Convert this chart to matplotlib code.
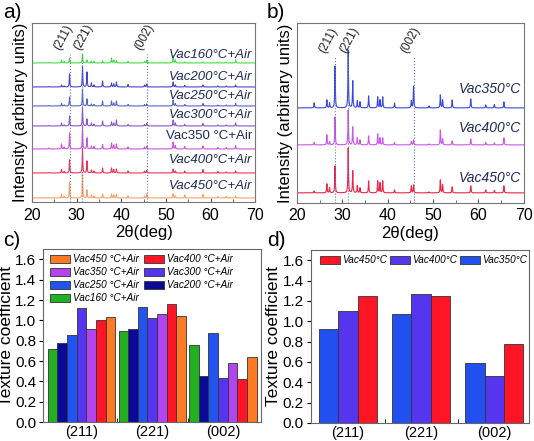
import numpy as np
import matplotlib
matplotlib.use("Agg")
import matplotlib.pyplot as plt
from matplotlib.ticker import MultipleLocator, FixedLocator

plt.rcParams['font.family'] = ['Liberation Sans', 'DejaVu Sans']

# ---- XRD peak list (2theta, deg) shared by all patterns ----
peak_pos = [23.8, 26.6, 27.2, 28.4, 31.3, 32.3, 33.3, 33.9, 35.8, 37.8, 38.3, 38.9,
            41.5, 45.2, 45.7, 49.1, 51.6, 52.1, 54.2, 58.3, 61.6, 63.5, 65.6]

# panel a: peak heights (arb. units) for each sample
a_vac160 = [0.5, 3, 1.5, 5, 9, 3, 2, 1.5, 2, 5, 3, 2.5, 1.5, 1.5, 2.5, 0.3, 7, 3, 1, 1, 0.8, 0.8, 3]
a_vac200 = [0.5, 2, 1, 13, 21, 15, 4, 2, 6, 4, 3, 5, 2.5, 2, 3, 0.3, 5, 2, 1.5, 2, 1, 1, 2]
a_vac250 = [0.5, 2.5, 1, 9, 17, 7, 2, 1.5, 5, 5, 3, 5, 1.5, 1.5, 2, 0.3, 6, 2.5, 1.5, 2.5, 1, 1, 2.5]
a_vac300 = [0.5, 3, 1, 10, 19, 7, 3, 2, 5, 4, 3, 6, 1.5, 1.5, 2.5, 0.3, 6, 3, 1.5, 2.5, 1, 1, 3]
a_vac350 = [1, 5, 2, 16, 23, 11, 3, 2.5, 4.5, 6, 4, 5, 2, 2, 3, 0.3, 7, 3.5, 2.5, 3, 1.5, 1.5, 3.5]
a_vac400 = [0.5, 3.5, 1.5, 13, 25, 12, 3, 2, 5, 5, 3.5, 4, 2, 2, 2.5, 0.3, 4, 2, 2, 3.5, 1.5, 1, 2]
a_vac450 = [0.5, 3.5, 1.5, 16, 25, 8, 3, 2, 4, 4, 3, 3.5, 2, 2, 4, 0.3, 4, 2, 3, 3.5, 1.5, 1.5, 2]
a_names = ["Vac160\u00b0C+Air", "Vac200\u00b0C+Air", "Vac250\u00b0C+Air", "Vac300\u00b0C+Air",
           "Vac350 \u00b0C+Air", "Vac400\u00b0C+Air", "Vac450\u00b0C+Air"]
a_offsets = [139, 115, 96, 76, 53, 29, 4]
a_label_y = [147, 125, 106, 87, 66, 42, 16]
a_colors = ['#44dd44', '#4646cc', '#5566cc', '#8a55cc', '#cc55dd', '#ee3358', '#ffa060']

# panel b
b_vac350 = [5, 8, 5, 42, 58, 27, 7, 6, 12, 11, 8, 11, 5, 7, 22, 2, 13, 8, 8, 9, 3, 3.5, 6]
b_vac400 = [2.5, 10, 3, 28, 35, 18, 7, 5, 9, 11, 7, 7, 2.5, 3.5, 5, 1, 15, 6, 4, 6, 2.5, 2, 7]
b_vac450 = [2, 9, 5, 27, 45, 22, 7, 5, 12, 12, 10, 12, 3, 7, 8, 1, 13, 8, 6, 7, 3, 2.5, 7]
b_names = ["Vac350\u00b0C", "Vac400\u00b0C", "Vac450\u00b0C"]
b_offsets = [95, 58, 10]
b_label_y = [114, 75, 25]
b_colors = ['#3848dd', '#cc55ee', '#ee2244']

hkl = ["(211)", "(221)", "(002)"]
hkl_pos = [28.4, 31.3, 45.7]
hkl_shift = [-1.5, 0.2, -0.6]

# ---- texture coefficients ----
c_names = ["Vac160 \u00b0C+Air", "Vac200 \u00b0C+Air", "Vac250 \u00b0C+Air", "Vac300 \u00b0C+Air",
           "Vac350 \u00b0C+Air", "Vac400 \u00b0C+Air", "Vac450 \u00b0C+Air"]
c_vac160 = [0.72, 0.90, 0.76]
c_vac200 = [0.78, 0.91, 0.45]
c_vac250 = [0.86, 1.13, 0.88]
c_vac300 = [1.12, 1.02, 0.43]
c_vac350 = [0.91, 1.06, 0.58]
c_vac400 = [1.00, 1.16, 0.42]
c_vac450 = [1.03, 1.04, 0.64]
c_colors = ['#22b022', '#0a0a96', '#2255f0', '#5535ee', '#b245f0', '#ff1525', '#ff7a25']

d_names = ["Vac350\u00b0C", "Vac400\u00b0C", "Vac450\u00b0C"]
d_vac350 = [0.92, 1.07, 0.59]
d_vac400 = [1.10, 1.27, 0.46]
d_vac450 = [1.25, 1.25, 0.78]
d_colors = ['#2250f0', '#5535ee', '#ff1525']

TICK_FS = 11.5
LAB_FS = 12


def pattern(x, heights, offset, w=0.07):
    y = np.full_like(x, offset, dtype=float)
    for p, h in zip(peak_pos, heights):
        y += h / (1 + ((x - p) / w) ** 2)
    return y


def style_xrd(ax, top):
    ax.set_xlim(20, 70)
    ax.set_ylim(0, top)
    ax.set_yticks([])
    ax.xaxis.set_major_locator(MultipleLocator(10))
    ax.xaxis.set_minor_locator(MultipleLocator(5))
    ax.tick_params(axis='x', which='both', direction='in', labelsize=TICK_FS, color='#555555')
    ax.tick_params(axis='x', which='major', length=3, pad=4)
    ax.tick_params(axis='x', which='minor', length=2)
    for s in ax.spines.values():
        s.set_color('#777777')
    ax.set_ylabel("Intensity (arbitrary units)", fontsize=LAB_FS, labelpad=3)
    ax.set_xlabel("2\u03b8(deg)", fontsize=LAB_FS, labelpad=2)


def style_bar(ax, xlim):
    ax.set_xlim(*xlim)
    ax.set_ylim(0, 1.7)
    ax.set_xticks([1, 2, 3])
    ax.set_xticklabels(hkl, fontsize=10.5)
    ax.xaxis.set_minor_locator(FixedLocator([1.5, 2.5]))
    ax.tick_params(axis='x', which='major', length=0, pad=2)
    ax.tick_params(axis='x', which='minor', length=3, direction='in')
    ax.set_yticks(np.arange(0, 1.61, 0.2))
    ax.tick_params(axis='y', labelsize=11, length=3, pad=2)
    for s in ax.spines.values():
        s.set_color('#666666')
    ax.set_ylabel("Texture coefficient", fontsize=12.5, labelpad=1)


fig = plt.figure(figsize=(5.34, 4.41), dpi=100)
ax_a = fig.add_axes([0.060, 0.542, 0.418, 0.406])
ax_b = fig.add_axes([0.556, 0.540, 0.425, 0.408])
ax_c = fig.add_axes([0.081, 0.043, 0.408, 0.392])
ax_d = fig.add_axes([0.582, 0.041, 0.408, 0.392])

x = np.linspace(20, 70, 3000)

# a)
a_data = [a_vac160, a_vac200, a_vac250, a_vac300, a_vac350, a_vac400, a_vac450]
for hs, off, col, name, ly in zip(a_data, a_offsets, a_colors, a_names, a_label_y):
    ax_a.plot(x, pattern(x, hs, off), color=col, lw=0.8)
    st = 'normal' if name.startswith("Vac350") else 'italic'
    ax_a.text(69.3, ly, name, ha='right', va='center', fontsize=9.5, style=st, color='#1f2a5a')
for p, dx, lab in zip(hkl_pos, hkl_shift, hkl):
    ax_a.plot([p, p], [0, 148], ls=':', color='#6a78b0', lw=0.8)
    ax_a.text(p + dx, 150, lab, rotation=62, ha='center', va='bottom', fontsize=8.5, color='#222222')
style_xrd(ax_a, 179)

# b)
b_data = [b_vac350, b_vac400, b_vac450]
for hs, off, col, name, ly in zip(b_data, b_offsets, b_colors, b_names, b_label_y):
    ax_b.plot(x, pattern(x, hs, off), color=col, lw=0.8)
    ax_b.text(69.3, ly, name, ha='right', va='center', fontsize=10, style='italic', color='#1f2a5a')
for p, dx, lab in zip(hkl_pos, hkl_shift, hkl):
    ax_b.plot([p, p], [0, 146], ls=':', color='#6a78b0', lw=0.8)
    ax_b.text(p + dx, 148, lab, rotation=62, ha='center', va='bottom', fontsize=8.5, color='#222222')
style_xrd(ax_b, 180)

# c)
c_data = [c_vac160, c_vac200, c_vac250, c_vac300, c_vac350, c_vac400, c_vac450]
grp = np.arange(1, 4)
bw = 0.136
bars_c = []
for i, (vals, col, name) in enumerate(zip(c_data, c_colors, c_names)):
    b = ax_c.bar(grp + (i - 3) * bw, vals, width=bw, color=col, edgecolor='#333333',
                 lw=0.6, label=name)
    bars_c.append(b)
style_bar(ax_c, (0.46, 3.54))
order = [6, 4, 2, 0, 5, 3, 1]
ax_c.legend([bars_c[i] for i in order], [c_names[i] for i in order], ncol=2,
            loc='upper left', bbox_to_anchor=(0.0, 1.01), frameon=False,
            prop={'style': 'italic', 'size': 7.2}, handlelength=2.0, handleheight=0.95,
            columnspacing=0.5, handletextpad=0.3, labelspacing=0.3, borderaxespad=0.3)

# d)
d_data = [d_vac350, d_vac400, d_vac450]
bw = 0.265
bars_d = []
for i, (vals, col, name) in enumerate(zip(d_data, d_colors, d_names)):
    b = ax_d.bar(grp + (i - 1) * bw, vals, width=bw, color=col, edgecolor='#333333',
                 lw=0.6, label=name)
    bars_d.append(b)
style_bar(ax_d, (0.49, 3.47))
ax_d.legend(bars_d[::-1], d_names[::-1], ncol=3, loc='upper left',
            bbox_to_anchor=(0.01, 1.01), frameon=False,
            prop={'style': 'italic', 'size': 7.2}, handlelength=2.0, handleheight=0.95,
            columnspacing=0.3, handletextpad=0.2, borderaxespad=0.3)

for lab, (px, py) in zip(["a)", "b)", "c)", "d)"],
                         [(3, 13), (267, 13), (3, 241), (267, 241)]):
    fig.text(px / 534, 1 - py / 441, lab, fontsize=15, ha='left', va='center')

fig.savefig("out.png", dpi=100)
